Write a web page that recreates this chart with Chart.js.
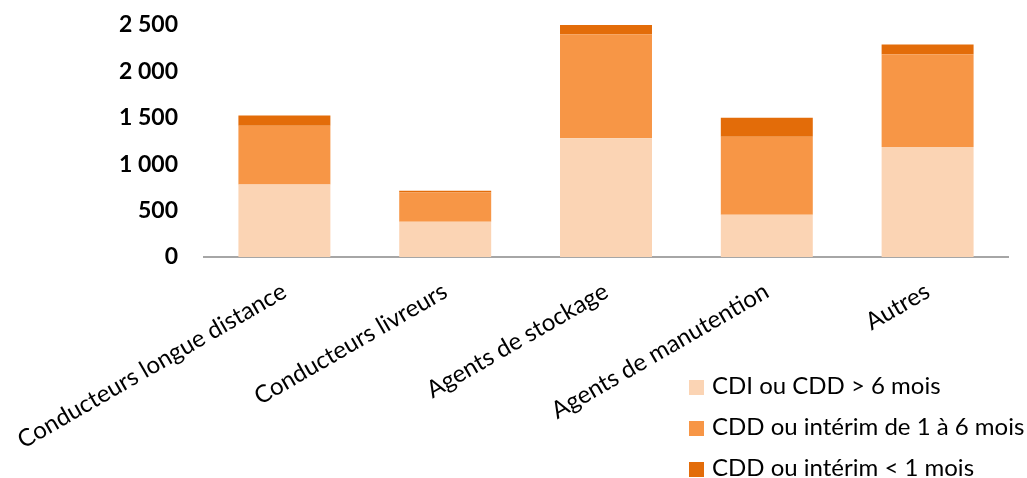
<!DOCTYPE html>
<html>
<head>
<meta charset="utf-8">
<script src="https://cdn.jsdelivr.net/npm/chart.js@4/dist/chart.umd.min.js"></script>
<style>
  html, body { margin: 0; padding: 0; background: #fff; }
  #wrap { position: relative; width: 1027px; height: 478px; }
  #legend {
    position: absolute; left: 689px; top: 364px;
    font-family: Lato, "Noto Sans", sans-serif; font-size: 24px; color: #000;
  }
  #legend div { height: 41px; line-height: 41px; white-space: nowrap; }
  #legend span.box { display: inline-block; width: 15px; height: 15px; margin-right: 8px; vertical-align: -1px; }
</style>
</head>
<body>
<div id="wrap">
  <canvas id="chart" width="1027" height="478"></canvas>
  <div id="legend"></div>
</div>
<script>
// --- Données ---
const categories = ['Conducteurs longue distance', 'Conducteurs livreurs', 'Agents de stockage', 'Agents de manutention', 'Autres'];
const seriesNames = ['CDI ou CDD > 6 mois', 'CDD ou intérim de 1 à 6 mois', 'CDD ou intérim < 1 mois'];
const cdiLong = [780, 380, 1280, 455, 1185];
const cddMoyen = [635, 315, 1120, 840, 1000];
const cddCourt = [110, 20, 105, 205, 105];
const yTicks = [0, 500, 1000, 1500, 2000, 2500];

const colors = ['#FBD4B4', '#F79646', '#E36C09'];
const font = 'Lato, "Noto Sans", sans-serif';

// Séparateur de milliers (espace)
function fmt(v) {
    return String(v).replace(/\B(?=(\d{3})+(?!\d))/g, ' ');
}

const ctx = document.getElementById('chart').getContext('2d');
const chart = new Chart(ctx, {
    type: 'bar',
    data: {
        labels: categories,
        datasets: [cdiLong, cddMoyen, cddCourt].map((d, i) => ({
            label: seriesNames[i],
            data: d,
            backgroundColor: colors[i],
            barPercentage: 0.572,
            categoryPercentage: 1
        }))
    },
    options: {
        responsive: false,
        animation: false,
        layout: { padding: { top: 25, right: 19, left: 0, bottom: 0 } },
        plugins: { legend: { display: false }, tooltip: { enabled: false } },
        scales: {
            x: {
                stacked: true,
                grid: { display: false },
                border: { display: true, color: '#A6A6A6', width: 2 },
                ticks: {
                    color: '#000', autoSkip: false,
                    font: { family: font, size: 24 },
                    minRotation: 30, maxRotation: 30, padding: 12
                },
                afterFit: (scale) => {
                    scale.height = 221;
                    // les étiquettes inclinées ne décalent pas la zone du graphique
                    scale.paddingLeft = 0;
                    scale.paddingRight = 0;
                }
            },
            y: {
                stacked: true,
                min: 0, max: 2500,
                grid: { display: false, drawTicks: false },
                border: { display: false },
                afterBuildTicks: (scale) => { scale.ticks = yTicks.map(v => ({ value: v })); },
                ticks: {
                    color: '#000', padding: 26,
                    font: { family: font, size: 23, weight: 'bold' },
                    callback: (v) => fmt(v)
                },
                afterFit: (scale) => {
                    scale.width = 204;
                    // la marge des ticks ne doit pas pousser la zone du graphique
                    scale.paddingTop = 0;
                    scale.paddingBottom = 0;
                }
            }
        }
    }
});

// Légende verticale en bas à droite
const legend = document.getElementById('legend');
chart.data.datasets.forEach(ds => {
    const row = document.createElement('div');
    row.innerHTML = `<span class="box" style="background:${ds.backgroundColor}"></span>`;
    row.appendChild(document.createTextNode(ds.label));
    legend.appendChild(row);
});
</script>
</body>
</html>
